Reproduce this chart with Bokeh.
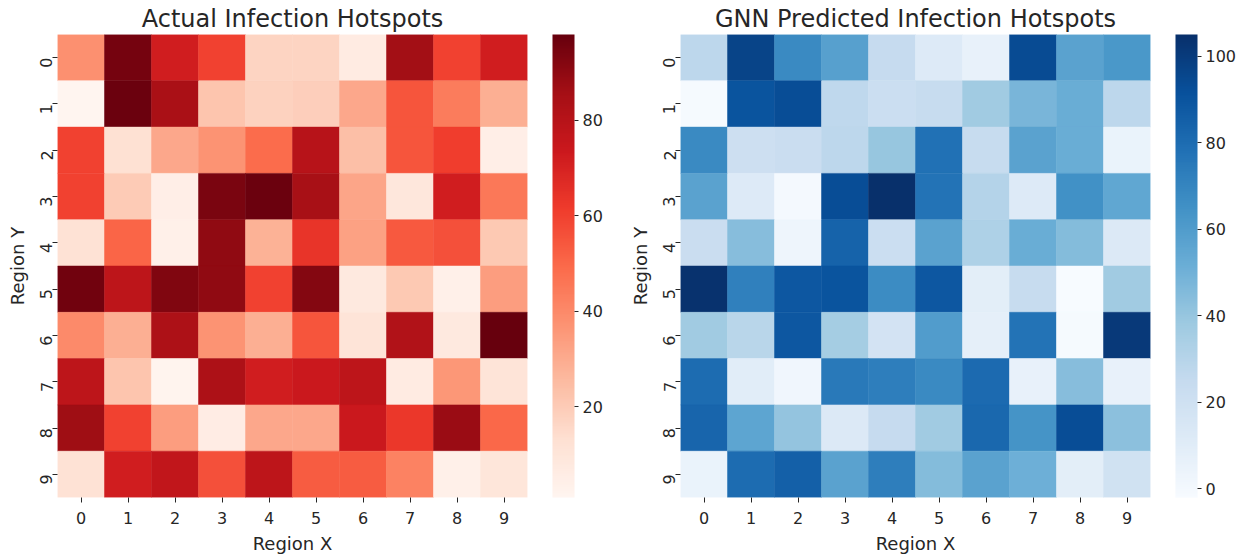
import math
from bokeh.plotting import figure
from bokeh.models import LinearColorMapper, ColorBar, FixedTicker, ColumnDataSource
from bokeh.layouts import row
from bokeh.palettes import Reds256, Blues256
from bokeh.embed import file_html
from bokeh.resources import INLINE

regions = [str(i) for i in range(10)]

actual = [
    [38, 95, 72, 60, 17, 17, 7, 86, 60, 72],
    [1, 97, 84, 22, 18, 19, 31, 55, 44, 29],
    [60, 13, 31, 37, 49, 80, 24, 55, 61, 5],
    [60, 20, 5, 94, 97, 85, 32, 9, 72, 45],
    [12, 51, 4, 90, 28, 64, 33, 54, 56, 21],
    [96, 78, 93, 90, 60, 92, 8, 21, 4, 34],
    [40, 29, 83, 37, 29, 55, 11, 82, 8, 98],
    [78, 22, 2, 83, 72, 74, 78, 7, 36, 11],
    [87, 60, 34, 6, 31, 31, 74, 63, 88, 50],
    [12, 72, 77, 56, 78, 53, 53, 42, 4, 10],
]

predicted = [
    [28, 97, 68, 58, 25, 12, 6, 94, 57, 62],
    [-1, 90, 93, 27, 22, 24, 37, 48, 52, 28],
    [68, 21, 23, 28, 40, 78, 24, 57, 52, 5],
    [57, 12, 0, 93, 105, 77, 31, 12, 65, 55],
    [23, 44, 3, 84, 22, 57, 33, 52, 45, 13],
    [104, 72, 89, 90, 67, 89, 9, 24, -2, 37],
    [37, 29, 89, 36, 18, 60, 8, 77, -1, 101],
    [80, 10, 2, 75, 73, 68, 81, 6, 44, 6],
    [83, 56, 41, 13, 25, 37, 82, 64, 93, 43],
    [5, 80, 85, 57, 73, 45, 57, 51, 9, 19],
]

actual_ticks = [20, 40, 60, 80]
predicted_ticks = [0, 20, 40, 60, 80, 100]

TEXT = "#262626"
FONT = "DejaVu Sans"


def heatmap(title, data, palette, cticks, border_left):
    xs, ys, vs = [], [], []
    for r in range(10):
        for c in range(10):
            xs.append(regions[c])
            ys.append(regions[r])
            vs.append(data[r][c])
    src = ColumnDataSource(dict(x=xs, y=ys, v=vs))
    flat = [v for rr in data for v in rr]
    mapper = LinearColorMapper(palette=palette, low=min(flat), high=max(flat))

    p = figure(x_range=regions, y_range=list(reversed(regions)),
               frame_width=470, frame_height=463,
               toolbar_location=None, output_backend="svg",
               title=title, min_border_left=border_left, min_border_right=0,
               min_border_top=0, min_border_bottom=0)
    p.rect(x="x", y="y", width=1, height=1, source=src,
           fill_color={"field": "v", "transform": mapper},
           line_color={"field": "v", "transform": mapper}, line_width=0.5)

    p.title.text_font = FONT
    p.title.text_font_size = "24px"
    p.title.text_font_style = "normal"
    p.title.text_color = TEXT
    p.title.align = "center"
    p.title.standoff = 4

    p.outline_line_color = None
    p.grid.grid_line_color = None
    for ax in (p.xaxis[0], p.yaxis[0]):
        ax.axis_line_color = None
        ax.major_tick_line_color = TEXT
        ax.major_tick_out = 5
        ax.major_tick_in = 0
        ax.minor_tick_line_color = None
        ax.major_label_text_font = FONT
        ax.major_label_text_font_size = "16px"
        ax.major_label_text_color = TEXT
        ax.axis_label_text_font = FONT
        ax.axis_label_text_font_size = "18px"
        ax.axis_label_text_font_style = "normal"
        ax.axis_label_text_color = TEXT
    p.xaxis.major_label_standoff = 9
    p.xaxis.axis_label_standoff = 6
    p.yaxis.major_label_standoff = 6
    p.yaxis.axis_label_standoff = 4
    p.xaxis.axis_label = "Region X"
    p.yaxis.axis_label = "Region Y"
    p.yaxis.major_label_orientation = math.pi / 2

    cb = ColorBar(color_mapper=mapper, ticker=FixedTicker(ticks=cticks),
                  width=22, height=463, location=(25, 0), padding=0, margin=0,
                  border_line_color=None, bar_line_color=None,
                  background_fill_alpha=0,
                  major_tick_line_color=TEXT, major_tick_in=0, major_tick_out=4,
                  major_label_text_font=FONT, major_label_text_font_size="16px",
                  major_label_text_color=TEXT, label_standoff=4)
    p.add_layout(cb, "right")
    return p


p1 = heatmap("Actual Infection Hotspots", actual, list(reversed(Reds256)), actual_ticks, 57)
p2 = heatmap("GNN Predicted Infection Hotspots", predicted, list(reversed(Blues256)), predicted_ticks, 75)

layout = row(p1, p2)
open("out.html", "w").write(file_html(layout, INLINE))
